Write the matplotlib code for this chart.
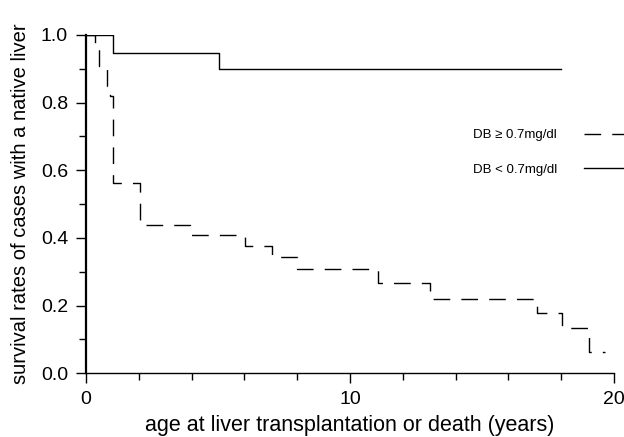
import matplotlib
matplotlib.use("Agg")
import matplotlib.pyplot as plt
from matplotlib.ticker import MultipleLocator

plt.rcParams['font.family'] = ['Liberation Sans', 'DejaVu Sans']

# Kaplan-Meier step data
low_t = [0, 1.03, 5.04, 18.0]
low_s = [1.0, 0.948, 0.898, 0.898]

high_t = [0, 0.32, 0.47, 0.78, 0.9, 1.03, 2.05, 3.94, 6.02, 7.03, 7.98,
          11.05, 13.03, 17.07, 18.02, 19.07, 19.66]
high_s = [1.0, 0.967, 0.908, 0.848, 0.819, 0.563, 0.438, 0.409, 0.376,
          0.343, 0.308, 0.266, 0.22, 0.177, 0.134, 0.063, 0.063]

labels = ['DB \u2265 0.7mg/dl', 'DB < 0.7mg/dl']

fig = plt.figure(figsize=(6.24, 4.37), dpi=100)
ax = fig.add_axes([0.138, 0.146, 0.846, 0.774])

ax.step(high_t, high_s, where='post', color='black', lw=1.0,
        dashes=(12, 8), label=labels[0])
ax.step(low_t, low_s, where='post', color='black', lw=1.0, label=labels[1])

ax.set_xlim(0, 20)
ax.set_ylim(0, 1.0)
ax.xaxis.set_major_locator(MultipleLocator(10))
ax.xaxis.set_minor_locator(MultipleLocator(2))
ax.yaxis.set_major_locator(MultipleLocator(0.2))
ax.yaxis.set_minor_locator(MultipleLocator(0.1))
ax.yaxis.set_major_formatter(plt.FuncFormatter(lambda v, p: f'{v:.1f}'))

for s in ['top', 'right']:
    ax.spines[s].set_visible(False)
ax.spines['left'].set_linewidth(1.6)
ax.spines['bottom'].set_linewidth(1.0)
ax.tick_params(which='major', length=7, width=1, labelsize=14, pad=6)
ax.tick_params(which='minor', length=5, width=1)

ax.set_xlabel('age at liver transplantation or death (years)', fontsize=15.5, labelpad=5)
ax.set_ylabel('survival rates of cases with a native liver', fontsize=14.5, labelpad=8)

leg = ax.legend(loc='upper left', bbox_to_anchor=(0.758, 0.705),
                bbox_transform=fig.transFigure, frameon=False, markerfirst=False,
                fontsize=9.5, handlelength=4, handletextpad=2.0, labelspacing=1.7,
                borderpad=0, borderaxespad=0)
leg.set_clip_on(False)

fig.savefig('out.png', dpi=100)
